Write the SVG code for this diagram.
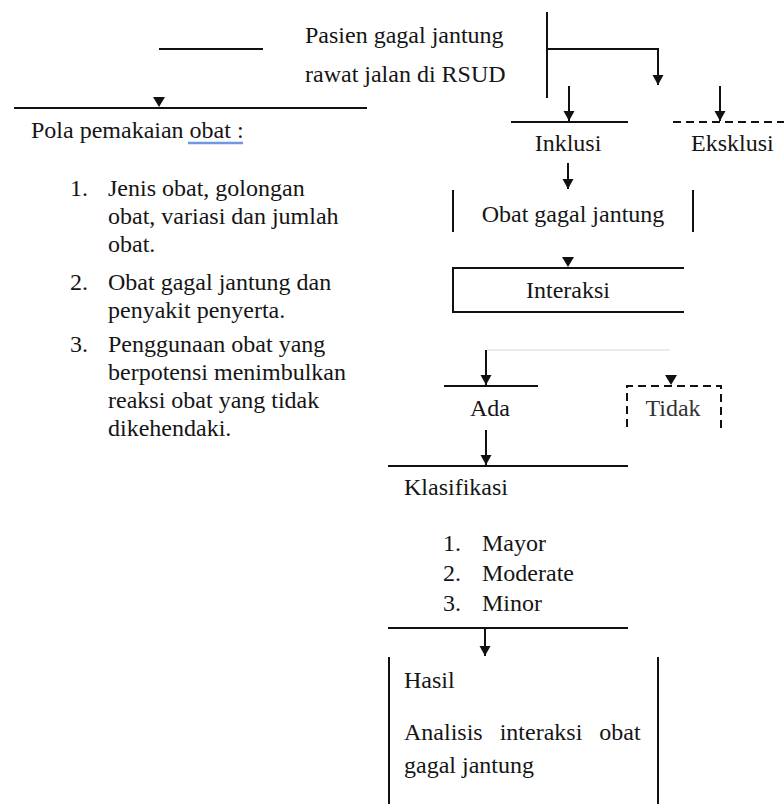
<svg xmlns="http://www.w3.org/2000/svg" width="784" height="804" viewBox="0 0 784 804">
<style>
.t{font-family:'Liberation Serif',Tinos,'Times New Roman','DejaVu Serif',serif;font-size:24px;fill:#151515}
.c{text-anchor:middle}
.ln{stroke:#111;stroke-width:2;fill:none}
.dash{stroke:#111;stroke-width:2;fill:none;stroke-dasharray:8 5}
.head{fill:#111}
.faint{stroke:#e4e4e4;stroke-width:1.5;fill:none}
</style>
<defs>
<marker id="ah" markerUnits="userSpaceOnUse" markerWidth="12" markerHeight="12" refX="10" refY="6" orient="auto">
<path d="M0,0.5 L10,6 L0,11.5 z" fill="#111"/>
</marker>
</defs>
<rect width="784" height="804" fill="#fff"/>

<g id="connectors">
<line class="ln" x1="159" y1="49" x2="263" y2="49"/>
<polyline class="ln" points="547,49 658,49 658,85" marker-end="url(#ah)"/>
<line class="ln" x1="547" y1="12" x2="547" y2="98"/>
<line class="ln" x1="569" y1="86" x2="569" y2="121" marker-end="url(#ah)"/>
<line class="ln" x1="720" y1="86" x2="720" y2="121" marker-end="url(#ah)"/>
<path class="head" d="M153,97 L165,97 L159,107 z"/>
<line class="ln" x1="568" y1="163" x2="568" y2="189" marker-end="url(#ah)"/>
<path class="head" d="M562,257 L574,257 L568,267 z"/>
<line class="faint" x1="487" y1="350" x2="670" y2="350"/>
<line class="ln" x1="486" y1="350" x2="486" y2="385" marker-end="url(#ah)"/>
<path class="head" d="M665,375 L677,375 L671,385 z"/>
<line class="ln" x1="486" y1="430" x2="486" y2="465" marker-end="url(#ah)"/>
<line class="ln" x1="485" y1="628" x2="485" y2="656" marker-end="url(#ah)"/>
</g>

<g id="pasien">
<text class="t" x="305" y="43">Pasien gagal jantung</text>
<text class="t" x="305" y="82">rawat jalan di RSUD</text>
</g>

<g id="pola">
<line class="ln" x1="14" y1="108" x2="367" y2="108"/>
<text class="t" x="31" y="138">Pola pemakaian obat :</text>
<line x1="188" y1="143" x2="243" y2="143" stroke="#7097e2" stroke-width="2.5"/>
<text class="t" x="70" y="196">1.</text>
<text class="t" x="108" y="196">Jenis obat, golongan</text>
<text class="t" x="108" y="224">obat, variasi dan jumlah</text>
<text class="t" x="108" y="252">obat.</text>
<text class="t" x="70" y="290">2.</text>
<text class="t" x="108" y="290">Obat gagal jantung dan</text>
<text class="t" x="108" y="318">penyakit penyerta.</text>
<text class="t" x="70" y="352">3.</text>
<text class="t" x="108" y="352">Penggunaan obat yang</text>
<text class="t" x="108" y="380">berpotensi menimbulkan</text>
<text class="t" x="108" y="408">reaksi obat yang tidak</text>
<text class="t" x="108" y="436">dikehendaki.</text>
</g>

<g id="inklusi">
<line class="ln" x1="511" y1="122" x2="628" y2="122"/>
<text class="t c" x="568" y="151">Inklusi</text>
</g>

<g id="eksklusi">
<line class="dash" x1="673" y1="122" x2="784" y2="122"/>
<text class="t" x="691" y="151">Eksklusi</text>
</g>

<g id="obat">
<line class="ln" x1="453" y1="190" x2="453" y2="232"/>
<line class="ln" x1="693" y1="190" x2="693" y2="232"/>
<text class="t c" x="573" y="222">Obat gagal jantung</text>
</g>

<g id="interaksi">
<polyline class="ln" points="684,268 453,268 453,312 684,312"/>
<text class="t c" x="568" y="298">Interaksi</text>
</g>

<g id="ada">
<line class="ln" x1="444" y1="386" x2="538" y2="386"/>
<text class="t c" x="490" y="416">Ada</text>
</g>

<g id="tidak">
<polyline class="dash" points="627,427 627,386 721,386 721,429"/>
<text class="t c" x="673" y="416" style="fill:#333">Tidak</text>
</g>

<g id="klasifikasi">
<line class="ln" x1="388" y1="466" x2="628" y2="466"/>
<text class="t" x="404" y="495">Klasifikasi</text>
<text class="t" x="443" y="551">1.</text>
<text class="t" x="482" y="551">Mayor</text>
<text class="t" x="443" y="581">2.</text>
<text class="t" x="482" y="581">Moderate</text>
<text class="t" x="443" y="611">3.</text>
<text class="t" x="482" y="611">Minor</text>
<line class="ln" x1="388" y1="628" x2="628" y2="628"/>
</g>

<g id="hasil">
<line class="ln" x1="389" y1="657" x2="389" y2="804"/>
<line class="ln" x1="658" y1="657" x2="658" y2="804"/>
<text class="t" x="404" y="688">Hasil</text>
<text class="t" x="404" y="740" word-spacing="11">Analisis interaksi obat</text>
<text class="t" x="404" y="773">gagal jantung</text>
</g>
</svg>
